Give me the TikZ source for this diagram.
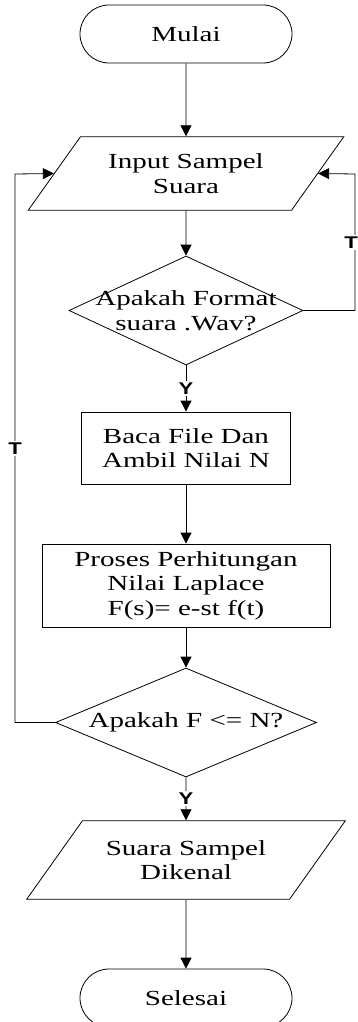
\documentclass[tikz,border=0pt]{standalone}
\usepackage{fontspec}
\setmainfont[FakeStretch=1.35]{Liberation Serif}
\newfontfamily\ytfont[FakeStretch=1.3]{Liberation Sans}
\usetikzlibrary{shapes.geometric,arrows.meta}

\begin{document}
\begin{tikzpicture}[x=1pt, y=-1pt, line width=0.8pt,
    every node/.style={draw, align=center, inner sep=0pt, font=\fontsize{21.5}{24.5}\selectfont},
    terminal/.style={rounded corners=29pt, minimum width=212pt, minimum height=58pt},
    io/.style={trapezium, trapezium left angle=54.6, trapezium right angle=125.4},
    process/.style={rectangle},
    decision/.style={diamond},
    teks/.style={draw=none},
    yt/.style={draw=none, fill=white, inner sep=1.5pt, font=\ytfont\bfseries\fontsize{17}{17}\selectfont},
    flow/.style={-{Triangle[width=11pt,length=11pt]}}]
      \useasboundingbox (0,0) rectangle (358,1022);
      \node[terminal] (mulai) at (186,34) {Mulai};
      \node[io, inner xsep=27.7pt, inner ysep=17pt] (input) at (186,173.5) {Input Sampel\\Suara};
      \node[decision, minimum width=234pt, minimum height=109pt, label={[teks]center:{Apakah Format\\suara .Wav?}}] (cek1) at (186,310.5) {};
      \node[process, minimum width=209pt, minimum height=72pt] (baca) at (186,448) {Baca File Dan\\Ambil Nilai N};
      \node[process, minimum width=288pt, minimum height=83pt] (proses) at (186,585.5) {Proses Perhitungan\\Nilai Laplace\\F(s)= e-st f(t)};
      \node[decision, minimum width=261pt, minimum height=109pt, label={[teks]center:{Apakah F <= N?}}] (cek2) at (186,722.5) {};
      \node[io, inner xsep=23.3pt, inner ysep=19.5pt] (hasil) at (186,860) {Suara Sampel\\Dikenal};
      \node[terminal] (selesai) at (186,998) {Selesai};
      \coordinate (kiri) at (15,174);
      \coordinate (kanan) at (355,174);
      \draw[flow] (mulai) -- (input);
      \draw[flow] (input) -- (cek1);
      \draw[flow] (cek1) -- node[yt] {Y} (baca);
      \draw[flow] (baca) -- (proses);
      \draw[flow] (proses) -- (cek2);
      \draw[flow] (cek2) -- node[yt] {Y} (hasil);
      \draw[flow] (hasil) -- (selesai);
      \draw[flow] (cek1.east) -| node[yt, pos=0.75, xshift=-4pt] {T} (kanan) -- (input.right side);
      \draw[flow] (cek2.west) -| node[yt, pos=0.75] {T} (kiri) -- (input.left side);
    \end{tikzpicture}
\end{document}
